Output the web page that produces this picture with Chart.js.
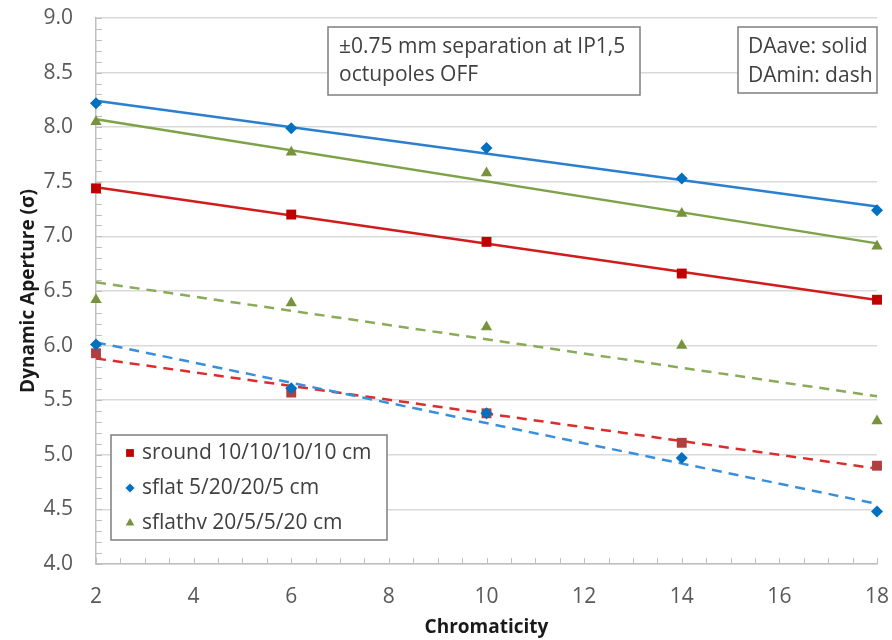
<!DOCTYPE html>
<html>
<head>
<meta charset="utf-8">
<title>Dynamic Aperture vs Chromaticity</title>
<script src="https://cdn.jsdelivr.net/npm/chart.js@4.4.1/dist/chart.umd.min.js"></script>
<style>
    html, body { margin: 0; padding: 0; background: #ffffff; }
    #wrap { width: 892px; height: 640px; }
</style>
</head>
<body>
<div id="wrap"><canvas id="DAChart" width="892" height="640"></canvas></div>
<script>
var chromaticity = [2, 6, 10, 14, 18];

// DAave (solid)
var sroundAve = [7.44, 7.20, 6.95, 6.66, 6.42];
var sflatAve = [8.22, 7.99, 7.81, 7.53, 7.24];
var sflathvAve = [8.05, 7.77, 7.58, 7.21, 6.91];

// DAmin (dash)
var sroundMin = [5.93, 5.57, 5.38, 5.11, 4.90];
var sflatMin = [6.01, 5.61, 5.38, 4.97, 4.48];
var sflathvMin = [6.42, 6.39, 6.17, 6.00, 5.31];

var seriesNames = ['sround 10/10/10/10 cm', 'sflat 5/20/20/5 cm', 'sflathv 20/5/5/20 cm'];
var noteLines = ['\u00b10.75 mm separation at IP1,5', 'octupoles OFF'];
var styleLines = ['DAave: solid', 'DAmin: dash'];

var xMin = 2, xMax = 18, xStep = 2;
var yMin = 4, yMax = 9, yStep = 0.5;

var FONT = '"Open Sans", "Noto Sans", sans-serif';

function toPoints(xs, ys) {
    return xs.map(function (x, i) { return { x: x, y: ys[i] }; });
}

// least squares trendline, from first to last x
function fitLine(xs, ys) {
    var n = xs.length, sx = 0, sy = 0, sxx = 0, sxy = 0;
    for (var i = 0; i < n; i++) {
        sx += xs[i]; sy += ys[i];
        sxx += xs[i] * xs[i]; sxy += xs[i] * ys[i];
    }
    var slope = (n * sxy - sx * sy) / (n * sxx - sx * sx);
    var icpt = (sy - slope * sx) / n;
    var x0 = xs[0], x1 = xs[n - 1];
    return [{ x: x0, y: icpt + slope * x0 }, { x: x1, y: icpt + slope * x1 }];
}

function markers(ys, color, style, r) {
    return {
        data: toPoints(chromaticity, ys),
        showLine: false,
        clip: false,
        pointStyle: style,
        pointRadius: r,
        pointBackgroundColor: color,
        pointBorderColor: color,
        pointBorderWidth: 0
    };
}

function trend(ys, color, dashed) {
    return {
        data: fitLine(chromaticity, ys),
        showLine: true,
        clip: false,
        pointRadius: 0,
        borderColor: color,
        borderWidth: 2.5,
        borderDash: dashed ? [10, 7] : [],
        fill: false
    };
}

var minorTicks = {
    id: 'minorTicks',
    beforeDatasetsDraw: function (chart) {
        var ctx = chart.ctx, xs = chart.scales.x, ys = chart.scales.y, a = chart.chartArea;
        ctx.save();
        ctx.strokeStyle = '#bfbfbf';
        ctx.lineWidth = 1;
        ctx.beginPath();
        for (var v = yMin * 10; v <= yMax * 10; v++) {
            var py = Math.round(ys.getPixelForValue(v / 10)) + 0.5;
            ctx.moveTo(a.left, py);
            ctx.lineTo(a.left + 6, py);
        }
        for (var u = xMin * 2; u <= xMax * 2; u++) {
            var px = Math.round(xs.getPixelForValue(u / 2)) + 0.5;
            ctx.moveTo(px, a.bottom);
            ctx.lineTo(px, a.bottom - 6);
        }
        ctx.stroke();
        ctx.restore();
    }
};

function textBox(ctx, x, y, w, h, lines, tx, ty, gap) {
    ctx.fillStyle = '#ffffff';
    ctx.fillRect(x, y, w, h);
    ctx.strokeStyle = '#7f7f7f';
    ctx.lineWidth = 1.5;
    ctx.strokeRect(x, y, w, h);
    ctx.fillStyle = '#404040';
    ctx.font = '21px ' + FONT;
    ctx.textAlign = 'left';
    ctx.textBaseline = 'middle';
    for (var i = 0; i < lines.length; i++) {
        ctx.fillText(lines[i], tx, ty + i * gap);
    }
}

var overlay = {
    id: 'overlay',
    afterDraw: function (chart) {
        var ctx = chart.ctx;
        ctx.save();
        textBox(ctx, 328, 27, 312, 68, noteLines, 339, 47, 28.5);
        textBox(ctx, 738, 27, 139, 66, styleLines, 748, 47, 29);

        // legend
        ctx.fillStyle = '#ffffff';
        ctx.fillRect(111, 435, 276, 105);
        ctx.strokeStyle = '#7f7f7f';
        ctx.lineWidth = 1.5;
        ctx.strokeRect(111, 435, 276, 105);
        var legendStyles = [['rect', '#c00000', 5.5], ['rectRot', '#0070c0', 4.5], ['triangle', '#77933c', 5]];
        for (var i = 0; i < seriesNames.length; i++) {
            var cy = 453 + i * 35;
            ctx.fillStyle = legendStyles[i][1];
            ctx.strokeStyle = legendStyles[i][1];
            Chart.helpers.drawPoint(ctx, { pointStyle: legendStyles[i][0], radius: legendStyles[i][2], borderWidth: 0, rotation: 0 }, 130, cy);
            ctx.fillStyle = '#404040';
            ctx.font = '21px ' + FONT;
            ctx.textAlign = 'left';
            ctx.textBaseline = 'middle';
            ctx.fillText(seriesNames[i], 142, cy);
        }
        ctx.restore();
    }
};

var ctx = document.getElementById('DAChart').getContext('2d');
window.DAChart = new Chart(ctx, {
    type: 'scatter',
    data: {
        datasets: [
            markers(sflatAve, '#0070c0', 'rectRot', 6),
            markers(sflathvAve, '#77933c', 'triangle', 6.5),
            markers(sroundAve, '#c00000', 'rect', 7),
            markers(sflatMin, '#0070c0', 'rectRot', 6),
            markers(sflathvMin, '#77933c', 'triangle', 6.5),
            markers(sroundMin, '#b04040', 'rect', 7),
            trend(sflatAve, '#2a7fcf', false),
            trend(sflathvAve, '#7ea24a', false),
            trend(sroundAve, '#d01c1c', false),
            trend(sflatMin, '#3a8fdc', true),
            trend(sflathvMin, '#8aab58', true),
            trend(sroundMin, '#dd2c2c', true)
        ]
    },
    options: {
        responsive: false,
        animation: false,
        devicePixelRatio: 1,
        events: [],
        layout: { padding: { top: 18, right: 15, left: 0, bottom: 0 } },
        plugins: {
            legend: { display: false },
            tooltip: { enabled: false }
        },
        scales: {
            x: {
                type: 'linear',
                min: xMin,
                max: xMax,
                afterFit: function (scale) {
                    scale.height = 76;
                    scale.paddingLeft = 0;
                    scale.paddingRight = 0;
                },
                ticks: {
                    stepSize: xStep,
                    color: '#595959',
                    font: { family: FONT, size: 21 },
                    padding: 20,
                    maxRotation: 0
                },
                grid: { display: false, drawTicks: false },
                border: { display: true, color: '#bfbfbf', width: 1.5 },
                title: {
                    display: true,
                    text: 'Chromaticity',
                    color: '#1a1a1a',
                    font: { family: FONT, size: 19, weight: 'bold' },
                    padding: { top: 0, bottom: 1 }
                }
            },
            y: {
                min: yMin,
                max: yMax,
                afterFit: function (scale) {
                    scale.width = 96;
                    scale.paddingTop = 0;
                    scale.paddingBottom = 0;
                },
                ticks: {
                    stepSize: yStep,
                    color: '#595959',
                    font: { family: FONT, size: 21 },
                    padding: 23,
                    callback: function (v) { return Number(v).toFixed(1); }
                },
                grid: { color: '#d9d9d9', lineWidth: 1.5, drawTicks: false },
                border: { display: true, color: '#bfbfbf', width: 1.5 },
                title: {
                    display: true,
                    text: 'Dynamic Aperture (\u03c3)',
                    color: '#1a1a1a',
                    font: { family: FONT, size: 19, weight: 'bold' },
                    padding: { top: 17, bottom: 0 }
                }
            }
        }
    },
    plugins: [minorTicks, overlay]
});
</script>
</body>
</html>
